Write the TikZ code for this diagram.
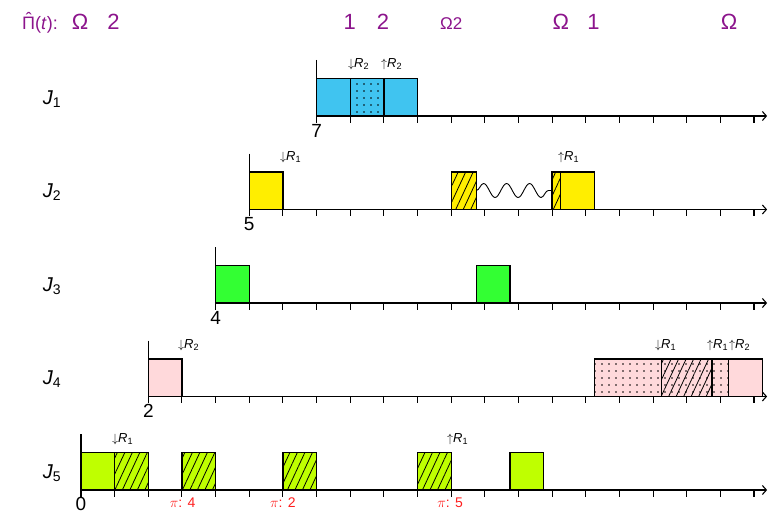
\documentclass[tikz,border=0pt]{standalone}
\usepackage{fontspec}
\setmainfont{Liberation Sans}
\usetikzlibrary{patterns.meta,decorations.pathmorphing,arrows.meta}
\definecolor{cyanc}{RGB}{64,196,240}
\definecolor{yellowc}{RGB}{255,238,0}
\definecolor{greenc}{RGB}{51,255,51}
\definecolor{pinkc}{RGB}{255,217,219}
\definecolor{limec}{RGB}{191,255,0}
\definecolor{purplec}{RGB}{140,20,140}
\definecolor{redc}{RGB}{255,30,30}
\newcommand\ganttrow[2]{%
  \draw[axisline] (#2,#1-56) -- (#2,#1+6.5);
  \pgfmathtruncatemacro\firsttick{#2+1}
  \foreach \i in {\firsttick,...,20} \draw[axisline] (\i,#1) -- (\i,#1+6.5);
  \draw[axisline,-{Straight Barb[length=4pt,width=9pt]}] (#2,#1) -- (20.39,#1);
}
\begin{document}
\begin{tikzpicture}[x=33.65pt,y=-1pt,
  axisline/.style={line width=1.1pt},
  box/.style={draw,line width=1.3pt},
  hatch/.style={pattern={Lines[angle=65,distance=6.8pt,line width=0.8pt]}},
  dotpat/.style={pattern={Dots[radius=0.9pt,distance=7pt]}},
  rlab/.style={anchor=west,inner sep=0pt,font=\fontsize{13}{13}\selectfont},
  jlab/.style={inner sep=0pt,font=\fontsize{20}{20}\selectfont},
  numlab/.style={anchor=north,inner sep=0pt,font=\fontsize{19}{19}\selectfont},
  toplab/.style={anchor=base,inner sep=0pt,text=purplec,font=\fontsize{22}{22}\selectfont},
  pilab/.style={anchor=base,inner sep=0pt,text=redc,font=\fontsize{14}{14}\selectfont}]
\useasboundingbox (-2.4071,0) rectangle (20.4458,511);

% top labels
\node[toplab,anchor=base west,font=\fontsize{18}{18}\selectfont] (pihat) at (-1.753,29.5)
  {\makebox[0pt][l]{\hspace{0.2em}\raisebox{0.22em}{ˆ}}Π(\textit{t}):};
\node[toplab] (t0) at (-0.03,29.5) {Ω};
\node[toplab] (t1) at (0.966,29.5) {2};
\node[toplab] (t8) at (7.99,29.5) {1};
\node[toplab] (t9) at (8.975,29.5) {2};
\node[toplab,font=\fontsize{17}{17}\selectfont] (t11) at (11.0,29.5) {Ω2};
\node[toplab] (t14) at (14.26,29.5) {Ω};
\node[toplab] (t15) at (15.23,29.5) {1};
\node[toplab] (t19) at (19.26,29.5) {Ω};

% row J1
\ganttrow{116}{7}
\draw[box,fill=cyanc] (7,78.5) rectangle (10,116);
\draw[box,preaction={fill=cyanc},dotpat] (8,78.5) rectangle (9,116);
\node[jlab] (j1) at (-0.86,99) {\textit{J}\textsubscript{1}};
\node[numlab] (n1) at (7,124) {7};
\node[rlab] (r1a) at (7.935,64) {$\downarrow$\textit{R}\textsubscript{2}};
\node[rlab] (r1b) at (8.915,64) {$\uparrow$\textit{R}\textsubscript{2}};

% row J2
\ganttrow{209.5}{5}
\draw[box,fill=yellowc] (5,172) rectangle (6,209.5);
\draw[box,preaction={fill=yellowc},hatch] (11,172) rectangle (11.75,209.5);
\draw[line width=0.9pt,decorate,decoration={snake,amplitude=7pt,segment length=23pt}] (11.75,190.5) -- (14,190.5);
\draw[box,preaction={fill=yellowc},hatch] (14,172) rectangle (14.25,209.5);
\draw[box,fill=yellowc] (14.25,172) rectangle (15.25,209.5);
\node[jlab] (j2) at (-0.86,192.5) {\textit{J}\textsubscript{2}};
\node[numlab] (n2) at (5,217.5) {5};
\node[rlab] (r2a) at (5.914,157.5) {$\downarrow$\textit{R}\textsubscript{1}};
\node[rlab] (r2b) at (14.175,157.5) {$\uparrow$\textit{R}\textsubscript{1}};

% row J3
\ganttrow{303}{4}
\draw[box,fill=greenc] (4,265.5) rectangle (5,303);
\draw[box,fill=greenc] (11.75,265.5) rectangle (12.75,303);
\node[jlab] (j3) at (-0.86,286) {\textit{J}\textsubscript{3}};
\node[numlab] (n3) at (4,311) {4};

% row J4
\ganttrow{396.5}{2}
\draw[box,fill=pinkc] (2,359) rectangle (3,396.5);
\draw[box,fill=pinkc] (15.25,359) rectangle (20.25,396.5);
\path[dotpat] (15.25,359) rectangle (19.25,396.5);
\path[hatch] (17.25,359) rectangle (18.75,396.5);
\draw[box] (15.25,359) rectangle (20.25,396.5);
\draw[box] (17.25,359) -- (17.25,396.5);
\draw[box] (18.75,359) -- (18.75,396.5);
\draw[box] (19.25,359) -- (19.25,396.5);
\node[jlab] (j4) at (-0.86,379.5) {\textit{J}\textsubscript{4}};
\node[numlab] (n4) at (2,404.5) {2};
\node[rlab] (r4a) at (2.883,345) {$\downarrow$\textit{R}\textsubscript{2}};
\node[rlab] (r4b) at (17.058,345) {$\downarrow$\textit{R}\textsubscript{1}};
\node[rlab] (r4c) at (18.603,345) {$\uparrow$\textit{R}\textsubscript{1}};
\node[rlab] (r4d) at (19.257,345) {$\uparrow$\textit{R}\textsubscript{2}};

% row J5
\ganttrow{490}{0}
\draw[box,fill=limec] (0,452.5) rectangle (2,490);
\draw[box,preaction={fill=limec},hatch] (1,452.5) rectangle (2,490);
\draw[box,preaction={fill=limec},hatch] (3,452.5) rectangle (4,490);
\draw[box,preaction={fill=limec},hatch] (6,452.5) rectangle (7,490);
\draw[box,preaction={fill=limec},hatch] (10,452.5) rectangle (11,490);
\draw[box,fill=limec] (12.75,452.5) rectangle (13.75,490);
\node[jlab] (j5) at (-0.86,473) {\textit{J}\textsubscript{5}};
\node[numlab] (n5) at (0,497) {0};
\node[rlab] (r5a) at (0.921,439) {$\downarrow$\textit{R}\textsubscript{1}};
\node[rlab] (r5b) at (10.877,439) {$\uparrow$\textit{R}\textsubscript{1}};
\node[pilab] (p4) at (3.02,507) {$\pi$: 4};
\node[pilab] (p2) at (6.0,507) {$\pi$: 2};
\node[pilab] (p5) at (10.97,507) {$\pi$: 5};
\end{tikzpicture}
\end{document}
